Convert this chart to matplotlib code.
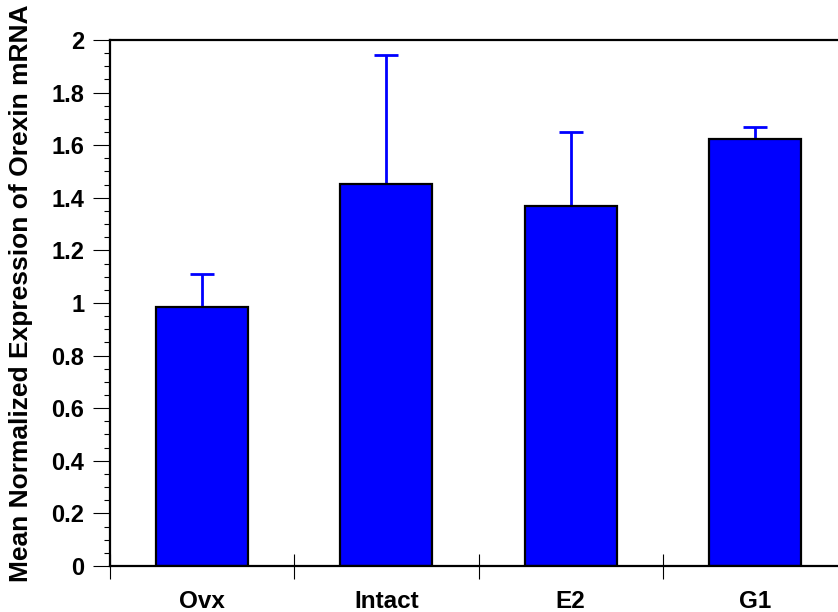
import matplotlib
matplotlib.use('Agg')
import matplotlib.pyplot as plt
from matplotlib.ticker import FixedLocator, NullFormatter
import numpy as np

plt.rcParams['font.family'] = ['Liberation Sans', 'DejaVu Sans']
plt.rcParams['font.weight'] = 'bold'

groups = ['Ovx', 'Intact', 'E2', 'G1']
means = [0.985, 1.452, 1.369, 1.624]
upper_err = [0.125, 0.490, 0.281, 0.045]
ytick_vals = [0, 0.2, 0.4, 0.6, 0.8, 1.0, 1.2, 1.4, 1.6, 1.8, 2.0]
ytick_text = ['0', '0.2', '0.4', '0.6', '0.8', '1', '1.2', '1.4', '1.6', '1.8', '2']

fig = plt.figure(figsize=(8.38, 6.12), dpi=100)
ax = fig.add_axes([0.1313, 0.0752, 0.8795, 0.8595])

x = np.arange(len(groups))
ax.bar(x, means, width=0.5, color='#0000ff', edgecolor='black', linewidth=1.6, zorder=2)
ax.errorbar(x, means, yerr=[np.zeros(len(means)), upper_err], fmt='none',
            ecolor='#0000ff', elinewidth=2.0, capsize=8.3, capthick=2.0, zorder=1)

ax.set_xlim(-0.5, 3.5)
ax.set_ylim(0, 2)

ax.set_yticks(ytick_vals)
ax.set_yticklabels(ytick_text)
ax.yaxis.set_minor_locator(FixedLocator(np.arange(0, 2.001, 0.05)))
ax.tick_params(axis='y', which='major', direction='out', length=12.5, width=0.8,
               pad=6, labelsize=17)
ax.tick_params(axis='y', which='minor', direction='out', length=4.5, width=0.8)

ax.set_xticks(x)
ax.set_xticklabels(groups)
ax.xaxis.set_minor_locator(FixedLocator([-0.5, 0.5, 1.5, 2.5]))
ax.xaxis.set_minor_formatter(NullFormatter())
ax.tick_params(axis='x', which='major', length=0, pad=17, labelsize=17.5)
ax.tick_params(axis='x', which='minor', direction='inout', length=18, width=0.8)

for sp in ax.spines.values():
    sp.set_linewidth(1.6)

ax.set_ylabel('Mean Normalized Expression of Orexin mRNA', fontsize=19, fontweight='bold')
ax.yaxis.set_label_coords(-0.104, 0.518)

fig.savefig('out.png', dpi=100)
